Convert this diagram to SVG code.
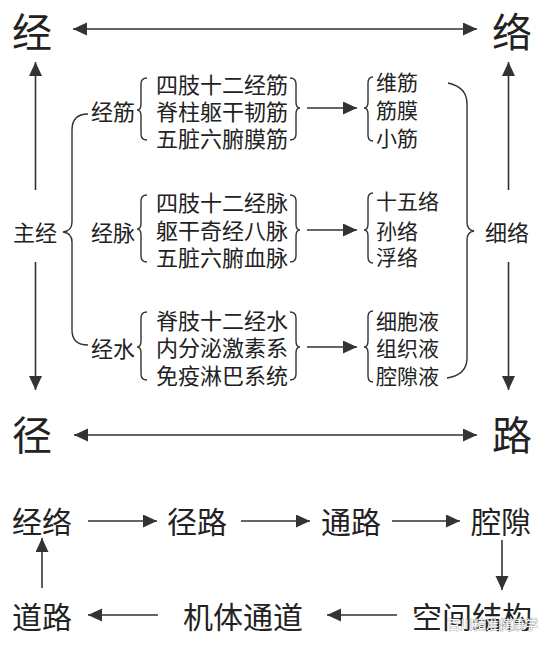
<svg xmlns="http://www.w3.org/2000/svg" width="556" height="646" viewBox="0 0 556 646">
<defs>
<marker id="ah" markerUnits="userSpaceOnUse" markerWidth="15" markerHeight="14" refX="14" refY="6.5" orient="auto-start-reverse" viewBox="0 0 15 14">
<path d="M0,0 L14,6.5 L0,13 z" fill="#333"/>
</marker>
<style>
text{font-family:"Noto Sans CJK SC","Noto Sans",sans-serif;fill:#222;dominant-baseline:central}
.big{font-size:40px}
.mid{font-size:30px}
.lab{font-size:22px}
.item{font-size:22px}
.tgt{font-size:21px}
.ln{stroke:#333;stroke-width:1.6;fill:none}
.arr{stroke:#333;stroke-width:1.6;fill:none;marker-end:url(#ah)}
.dbl{stroke:#333;stroke-width:1.6;fill:none;marker-end:url(#ah);marker-start:url(#ah)}
.br{stroke:#333;stroke-width:1.4;fill:none}
.wm{font-size:13px;fill:#fff;stroke:#777;stroke-width:0.6;paint-order:stroke}
</style>
</defs>
<rect width="556" height="646" fill="#fff"/>

<g id="connectors">
<line class="dbl" x1="73" y1="29" x2="477" y2="29"/>
<line class="dbl" x1="74" y1="435" x2="477" y2="435"/>
<line class="arr" x1="35.5" y1="190" x2="35.5" y2="62"/>
<line class="arr" x1="35.5" y1="262" x2="35.5" y2="390"/>
<line class="arr" x1="508.5" y1="190" x2="508.5" y2="62"/>
<line class="arr" x1="508.5" y1="262" x2="508.5" y2="390"/>
<path class="br" d="M88,114 Q72,114 72,130 L72,222 Q72,231 63,232 Q72,233 72,242 L72,330 Q72,345 88,345"/>
<path class="br" d="M448,83 Q467,87 467,104 L467,222 Q467,230 474,231 Q467,232 467,240 L467,358 Q467,375 447,378"/>
<path class="br" d="M147,78 Q141,78 141,84 L141,104 Q141,110 137,110 Q141,110 141,116 L141,134 Q141,140 147,140"/>
<path class="br" d="M290,78 Q296,78 296,84 L296,102 Q296,108 300,108 Q296,108 296,114 L296,134 Q296,140 290,140"/>
<path class="br" d="M373,77 Q368,77 368,83 L368,102 Q368,108 364,108 Q368,108 368,114 L368,135 Q368,141 373,141"/>
<line class="arr" x1="307" y1="108" x2="357" y2="108"/>
<path class="br" d="M147,195 Q141,195 141,201 L141,223 Q141,229 137,229 Q141,229 141,235 L141,256 Q141,262 147,262"/>
<path class="br" d="M290,195 Q296,195 296,201 L296,224 Q296,230 300,230 Q296,230 296,236 L296,256 Q296,262 290,262"/>
<path class="br" d="M373,193 Q368,193 368,199 L368,224 Q368,230 364,230 Q368,230 368,236 L368,257 Q368,263 373,263"/>
<line class="arr" x1="307" y1="230" x2="357" y2="230"/>
<path class="br" d="M147,312 Q141,312 141,318 L141,341 Q141,347 137,347 Q141,347 141,353 L141,374 Q141,380 147,380"/>
<path class="br" d="M290,312 Q296,312 296,318 L296,341 Q296,347 300,347 Q296,347 296,353 L296,374 Q296,380 290,380"/>
<path class="br" d="M373,311 Q368,311 368,317 L368,341 Q368,347 364,347 Q368,347 368,353 L368,376 Q368,382 373,382"/>
<line class="arr" x1="307" y1="347" x2="357" y2="347"/>
<line class="arr" x1="88" y1="521" x2="157" y2="521"/>
<line class="arr" x1="241" y1="521" x2="310" y2="521"/>
<line class="arr" x1="392" y1="521" x2="460" y2="521"/>
<line class="arr" x1="502" y1="540" x2="502" y2="590"/>
<line class="arr" x1="397" y1="615" x2="327" y2="615"/>
<line class="arr" x1="158" y1="615" x2="88" y2="615"/>
<line class="arr" x1="42" y1="588" x2="42" y2="538"/>
</g>

<g id="node-jing"><text class="big" x="12" y="30">经</text></g>
<g id="node-luo"><text class="big" x="492" y="30">络</text></g>
<g id="node-jing2"><text class="big" x="12" y="433">径</text></g>
<g id="node-lu"><text class="big" x="492" y="433">路</text></g>
<g id="node-zhujing"><text class="lab" x="13" y="231">主经</text></g>
<g id="node-xiluo"><text class="lab" x="485" y="231">细络</text></g>

<g id="node-jingjin"><text class="lab" x="91" y="110">经筋</text></g>
<g id="node-jingjin-items">
<text class="item" x="156" y="83">四肢十二经筋</text>
<text class="item" x="156" y="110">脊柱躯干韧筋</text>
<text class="item" x="156" y="137">五脏六腑膜筋</text>
</g>
<g id="node-jingjin-target">
<text class="tgt" x="376" y="81">维筋</text>
<text class="tgt" x="376" y="109">筋膜</text>
<text class="tgt" x="376" y="137">小筋</text>
</g>

<g id="node-jingmai"><text class="lab" x="91" y="231">经脉</text></g>
<g id="node-jingmai-items">
<text class="item" x="156" y="201">四肢十二经脉</text>
<text class="item" x="156" y="229">躯干奇经八脉</text>
<text class="item" x="156" y="256">五脏六腑血脉</text>
</g>
<g id="node-jingmai-target">
<text class="tgt" x="376" y="200">十五络</text>
<text class="tgt" x="376" y="230">孙络</text>
<text class="tgt" x="376" y="256">浮络</text>
</g>

<g id="node-jingshui"><text class="lab" x="91" y="347">经水</text></g>
<g id="node-jingshui-items">
<text class="item" x="156" y="319">脊肢十二经水</text>
<text class="item" x="156" y="346">内分泌激素系</text>
<text class="item" x="156" y="374">免疫淋巴系统</text>
</g>
<g id="node-jingshui-target">
<text class="tgt" x="376" y="320">细胞液</text>
<text class="tgt" x="376" y="347">组织液</text>
<text class="tgt" x="376" y="375">腔隙液</text>
</g>

<g id="node-jingluo"><text class="mid" x="12" y="520">经络</text></g>
<g id="node-jinglu"><text class="mid" x="167" y="520">径路</text></g>
<g id="node-tonglu"><text class="mid" x="321" y="520">通路</text></g>
<g id="node-qiangxi"><text class="mid" x="471" y="520">腔隙</text></g>
<g id="node-kongjian"><text class="mid" x="412" y="615">空间结构</text></g>
<g id="node-jiti"><text class="mid" x="183" y="615">机体通道</text></g>
<g id="node-daolu"><text class="mid" x="12" y="615">道路</text></g>

<text class="wm" x="447" y="623">百川精准健康学</text>
</svg>
